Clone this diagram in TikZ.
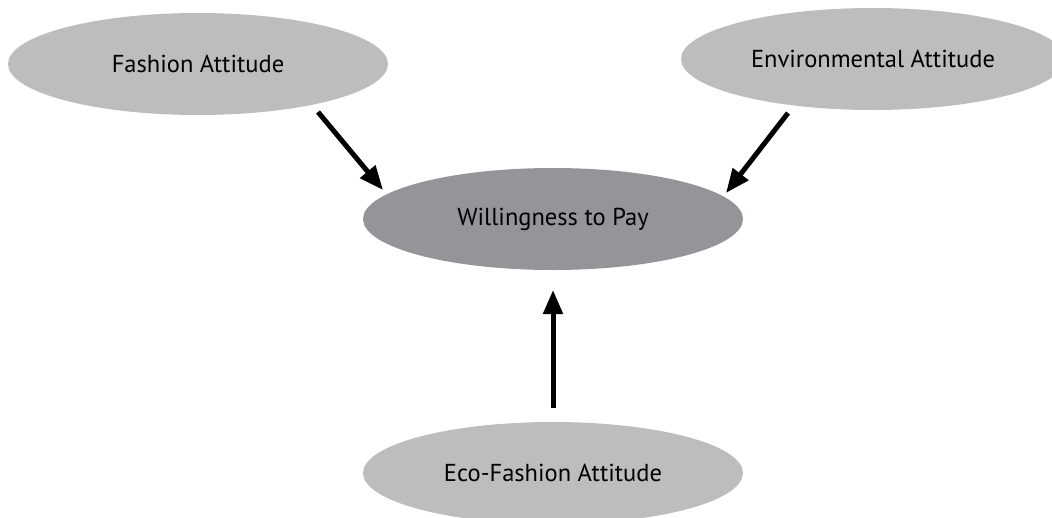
\documentclass[tikz,border=0pt]{standalone}
\usepackage{fontspec}
\setmainfont{PT Sans}
\usetikzlibrary{arrows.meta,shapes.geometric}
\definecolor{outerfill}{HTML}{BCBDBF}
\definecolor{centerfill}{HTML}{939598}
\tikzset{
  construct/.style={ellipse, fill=outerfill, draw=none, minimum width=380pt,
    minimum height=102pt, inner sep=0pt, font=\fontsize{24.5}{29}\selectfont},
  core/.style={construct, fill=centerfill},
  effect/.style={line width=5pt, -{Triangle[length=24pt,width=19pt]}}
}
\begin{document}
\begin{tikzpicture}[x=1pt,y=-1pt]
  \useasboundingbox (0,0) rectangle (1052,517);
  \node[construct] (fa)  at (198,64)  {Fashion Attitude};
  \node[construct, minimum width=384pt] (ea) at (873,59) {Environmental Attitude};
  \node[core]      (wtp) at (553,219) {Willingness to Pay};
  \node[construct] (efa) at (553,473) {Eco-Fashion Attitude};
  % free ends of the three effect arrows
  \coordinate (faout)  at (318,112);
  \coordinate (wtpnw)  at (383,190);
  \coordinate (eaout)  at (788,113);
  \coordinate (wtpne)  at (726,193);
  \coordinate (efaout) at (553,408);
  \coordinate (wtps)   at (553,290);
  \draw[effect] (faout) -- (wtpnw);
  \draw[effect] (eaout) -- (wtpne);
  \draw[effect] (efaout) -- (wtps);
\end{tikzpicture}
\end{document}
